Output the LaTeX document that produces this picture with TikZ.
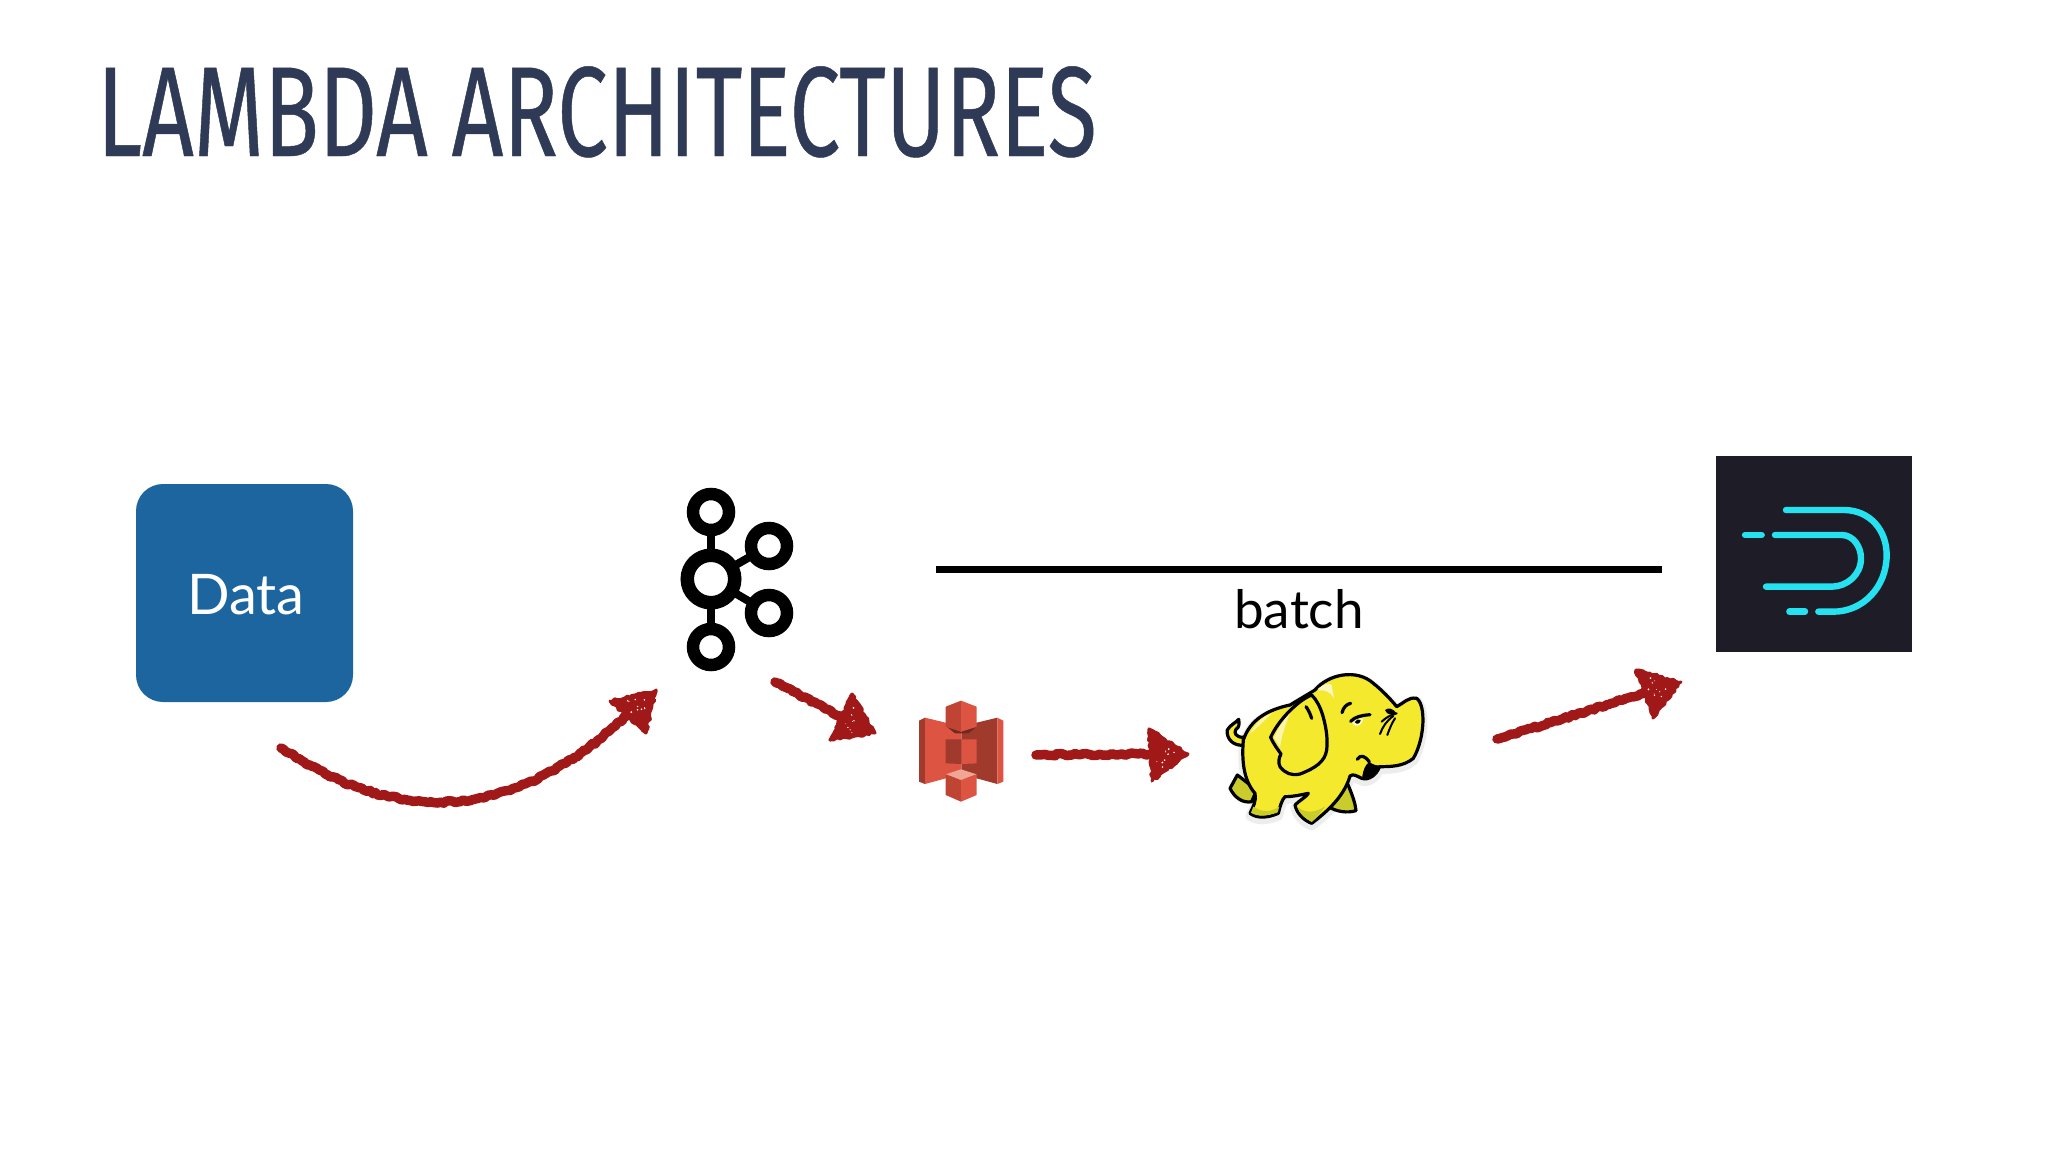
\documentclass[tikz,border=0pt]{standalone}
\usepackage{fontspec}
\usetikzlibrary{decorations.pathmorphing,calc}
\newfontfamily\titlefont[FakeStretch=0.705,FakeBold=0.35]{Fira Sans}
\newfontfamily\gillfont{Lato}
\definecolor{titleblue}{HTML}{2F3A56}
\definecolor{databox}{HTML}{1D659F}
\definecolor{crayon}{HTML}{A01818}
\definecolor{druidbg}{HTML}{1E1C26}
\definecolor{druidcyan}{HTML}{26E2F0}
\definecolor{sthreelight}{HTML}{DD5443}
\definecolor{sthreemid}{HTML}{BF4434}
\definecolor{sthreedark}{HTML}{A03A2C}
\definecolor{sthreedeep}{HTML}{6F2A1F}
\definecolor{sthreepale}{HTML}{F0A595}
\definecolor{hyellow}{HTML}{F4E92C}
\definecolor{holive}{HTML}{C9CC2A}
\tikzset{
  crayonshaft/.style={draw=crayon,line width=9.5pt,line cap=round,line join=round,
    decorate,decoration={random steps,segment length=3pt,amplitude=1.2pt}},
  crayonfill/.style={fill=crayon,draw=crayon,line width=3pt,line join=round,
    decorate,decoration={random steps,segment length=3pt,amplitude=1.3pt}},
  ringbig/.style={circle,draw=black,line width=13.5pt,minimum size=47.5pt,inner sep=0pt,outer sep=0pt},
  ringsmall/.style={circle,draw=black,line width=12.5pt,minimum size=36pt,inner sep=0pt,outer sep=0pt},
  spoke/.style={draw=black,line width=8pt},
  druidline/.style={draw=druidcyan,line width=6.4pt,line cap=round,line join=round},
  ink/.style={draw=black,line width=3.2pt,line join=round,line cap=round},
  inkthin/.style={draw=black,line width=2pt,line join=round,line cap=round},
}
\newcommand{\crayonhead}[4]{%
  \path[crayonfill] (#1) -- (#2) -- (#3) -- cycle;
  \foreach \i in {1,...,#4}{
    \pgfmathsetmacro{\ua}{0.1+0.8*rnd}
    \pgfmathsetmacro{\ub}{0.1+0.8*rnd}
    \pgfmathsetmacro{\uc}{0.1+0.8*rnd}
    \pgfmathsetmacro{\ur}{0.4+0.6*rnd}
    \fill[white] (barycentric cs:#1=\ua,#2=\ub,#3=\uc) circle (\ur pt);
  }%
}
\newcommand{\elephantbody}{(130,270) .. controls (150,210) and (200,180) .. (270,165)
   .. controls (295,150) and (320,135) .. (345,120)
   .. controls (385,72) and (470,55) .. (520,100)
   .. controls (545,120) and (570,145) .. (590,170)
   .. controls (610,160) and (625,140) .. (650,145)
   .. controls (678,165) and (675,265) .. (640,325)
   .. controls (610,350) and (570,350) .. (538,350)
   .. controls (530,375) and (505,392) .. (485,385)
   .. controls (470,378) and (460,370) .. (450,378)
   .. controls (435,430) and (395,475) .. (335,520)
   .. controls (310,510) and (290,490) .. (285,465)
   .. controls (300,450) and (320,440) .. (325,430)
   .. controls (300,435) and (280,440) .. (255,440)
   .. controls (245,450) and (240,470) .. (235,490)
   .. controls (200,505) and (170,505) .. (150,490)
   .. controls (160,470) and (170,450) .. (165,430)
   .. controls (130,390) and (125,330) .. (130,270) -- cycle}
\begin{document}
\begin{tikzpicture}[x=1pt,y=-1pt]
\useasboundingbox (0,0) rectangle (2048,1152);
\fill[white] (0,0) rectangle (2048,1152);

% title
\node[anchor=base west,inner sep=0pt,text=titleblue,font=\titlefont\fontsize{128}{128}\selectfont] (title) at (97,156) {LAMBDA ARCHITECTURES};

% data box
\node[draw=none,fill=databox,rounded corners=27pt,minimum width=217pt,minimum height=218pt,inner sep=0pt,outer sep=0pt] (data) at (244.5,593) {};
\node[anchor=base,inner sep=0pt,text=white,font=\gillfont\fontsize{56}{56}\selectfont] (datatext) at (246,614) {Data};

% kafka
\node[ringbig] (khub) at (711,579) {};
\node[ringsmall] (ktop) at (711,512) {};
\node[ringsmall] (kup) at (769,546) {};
\node[ringsmall] (kdown) at (769,613) {};
\node[ringsmall] (kbot) at (711,647) {};
\draw[spoke] (khub) -- (ktop);
\draw[spoke] (khub) -- (kup);
\draw[spoke] (khub) -- (kdown);
\draw[spoke] (khub) -- (kbot);

% batch line and label
\coordinate (batchleft) at (936,569.5);
\coordinate (batchright) at (1662,569.5);
\draw[black,line width=6.5pt] (batchleft) -- (batchright);
\node[anchor=base,inner sep=0pt,text=black,font=\gillfont\fontsize{53}{53}\selectfont] (batch) at (1299,628) {batch};

% S3
\begin{scope}[shift={(900,680)},scale=0.33333]
  \fill[sthreedark] (57,122) -- (75,113) -- (75,312) -- (57,305) -- cycle;
  \fill[sthreelight] (75,113) -- (137,128) -- (185,128) -- (185,295) -- (137,295) -- (75,312) -- cycle;
  \fill[sthreedark] (185,128) -- (230,128) -- (292,113) -- (292,312) -- (230,295) -- (185,295) -- cycle;
  \fill[sthreelight] (292,113) -- (310,122) -- (310,305) -- (292,312) -- cycle;
  \fill[sthreedeep] (140,140) -- (183,155) -- (228,142) -- (205,160) -- (165,160) -- cycle;
  \fill[sthreemid] (137,80) -- (183,62) -- (183,155) -- (137,140) -- cycle;
  \fill[sthreelight] (183,62) -- (230,80) -- (230,140) -- (183,155) -- cycle;
  \fill[sthreedark] (137,178) -- (185,178) -- (185,252) -- (137,250) -- cycle;
  \fill[sthreelight] (185,178) -- (230,178) -- (230,250) -- (185,252) -- cycle;
  \fill[sthreepale] (137,283) -- (183,268) -- (230,283) -- (183,300) -- cycle;
  \fill[sthreemid] (137,283) -- (183,300) -- (183,365) -- (137,345) -- cycle;
  \fill[sthreelight] (183,300) -- (230,283) -- (230,345) -- (183,365) -- cycle;
\end{scope}

% elephant
\begin{scope}[shift={(1200,650)},scale=0.33333]
  \draw[black!7,line width=9pt,line join=round,shift={(0,8)}] \elephantbody;
  \draw[ink,fill=holive] (112,375) -- (90,415) .. controls (105,445) and (130,460) .. (155,455) -- (170,420) -- cycle;
  \draw[ink,fill=holive] (440,395) .. controls (455,430) and (465,455) .. (468,482) .. controls (440,490) and (410,485) .. (385,470) -- cycle;
  \draw[ink,fill=hyellow] (132,285) .. controls (100,290) and (78,265) .. (82,240) .. controls (90,225) and (105,220) .. (116,208) .. controls (118,222) and (118,232) .. (108,238) .. controls (100,248) and (108,262) .. (130,262) -- cycle;
  \draw[ink,fill=hyellow] \elephantbody;
  % belly and foot shading
  \fill[holive] (160,470) .. controls (190,490) and (215,485) .. (238,470) -- (233,487) .. controls (200,500) and (170,500) .. (153,488) -- cycle;
  \fill[holive] (292,470) .. controls (315,490) and (340,490) .. (375,470) .. controls (360,490) and (350,505) .. (335,516) .. controls (315,505) and (298,490) .. (292,470) -- cycle;
  % highlights
  \fill[white!70!hyellow] (355,115) .. controls (370,105) and (385,95) .. (395,105) -- (402,145) .. controls (390,125) and (375,118) .. (355,122) -- cycle;
  \fill[white!60!hyellow] (150,250) .. controls (170,215) and (190,200) .. (215,190) .. controls (190,215) and (165,240) .. (150,250) -- cycle;
  % ear
  \draw[ink,fill=hyellow] (335,135) .. controls (295,150) and (235,210) .. (212,262) .. controls (222,285) and (235,300) .. (243,312) .. controls (235,325) and (235,340) .. (240,350) .. controls (255,370) and (275,378) .. (300,372) .. controls (345,355) and (375,335) .. (380,300) .. controls (385,260) and (375,220) .. (368,195) .. controls (360,170) and (350,150) .. (335,135) -- cycle;
  \fill[white!60!hyellow] (222,262) .. controls (240,225) and (255,205) .. (270,190) .. controls (255,225) and (245,260) .. (240,292) -- cycle;
  \draw[ink] (318,170) .. controls (325,180) and (330,190) .. (335,205);
  % mouth
  \fill[black] (487,378) .. controls (490,360) and (495,345) .. (508,336) .. controls (520,345) and (532,348) .. (545,346) .. controls (538,368) and (515,392) .. (487,382) -- cycle;
  \draw[ink] (472,328) .. controls (480,312) and (497,318) .. (508,336);
  % eye
  \fill[white!75!hyellow] (456,218) .. controls (464,206) and (478,202) .. (490,206) .. controls (488,224) and (470,238) .. (456,218) -- cycle;
  \fill[black] (464,216) .. controls (468,208) and (478,206) .. (482,210) .. controls (482,220) and (470,226) .. (464,216) -- cycle;
  \draw[ink] (452,214) .. controls (465,200) and (485,196) .. (510,194);
  \draw[ink] (426,188) .. controls (430,172) and (440,162) .. (452,160);
  % nostril and whiskers
  \fill[black] (555,180) .. controls (565,172) and (578,175) .. (588,188) .. controls (578,198) and (560,195) .. (555,180) -- cycle;
  \draw[inkthin] (590,190) .. controls (570,195) and (555,205) .. (545,215);
  \draw[inkthin] (580,198) .. controls (560,212) and (548,230) .. (540,252);
  \draw[inkthin] (585,205) .. controls (575,220) and (568,238) .. (562,255);
\end{scope}

% druid
\node[fill=druidbg,draw=none,minimum size=196pt,inner sep=0pt,outer sep=0pt] (druid) at (1814,554) {};
\begin{scope}[shift={(1700,440)},scale=0.33333]
  \draw[druidline] (258,210) -- (435,210) .. controls (510,212) and (560,270) .. (560,345) .. controls (560,440) and (490,515) .. (400,515) -- (355,515);
  \draw[druidline] (225,285) -- (425,285) .. controls (460,285) and (483,320) .. (483,355) .. controls (483,405) and (440,440) .. (395,440) -- (198,440);
  \draw[druidline] (135,285) -- (185,285);
  \draw[druidline] (268,515) -- (315,515);
\end{scope}

% crayon arrows
\pgfmathsetseed{7}
\coordinate (aonetail) at (281,748);
\coordinate (aonemid) at (440,802);
\coordinate (aoneend) at (628,714);
\coordinate (aoneA) at (656,690);
\coordinate (aoneB) at (610,701);
\coordinate (aoneC) at (646,733);
\draw[crayonshaft] (aonetail) .. controls (330,780) and (380,802) .. (aonemid) .. controls (510,802) and (575,765) .. (aoneend);
\crayonhead{aoneA}{aoneB}{aoneC}{10}

\coordinate (atwotail) at (775,682);
\coordinate (atwoend) at (840,716);
\coordinate (atwoA) at (852,694);
\coordinate (atwoB) at (875,733);
\coordinate (atwoC) at (830,740);
\draw[crayonshaft] (atwotail) -- (atwoend);
\crayonhead{atwoA}{atwoB}{atwoC}{10}

\coordinate (athreetail) at (1036,755);
\coordinate (athreeend) at (1152,754);
\coordinate (athreeA) at (1149,729);
\coordinate (athreeB) at (1188,754);
\coordinate (athreeC) at (1152,781);
\draw[crayonshaft] (athreetail) -- (athreeend);
\crayonhead{athreeA}{athreeB}{athreeC}{10}

\coordinate (afourtail) at (1497,739);
\coordinate (afourend) at (1645,693);
\coordinate (afourA) at (1636,670);
\coordinate (afourB) at (1681,682);
\coordinate (afourC) at (1653,718);
\draw[crayonshaft] (afourtail) -- (afourend);
\crayonhead{afourA}{afourB}{afourC}{10}
\end{tikzpicture}
\end{document}
